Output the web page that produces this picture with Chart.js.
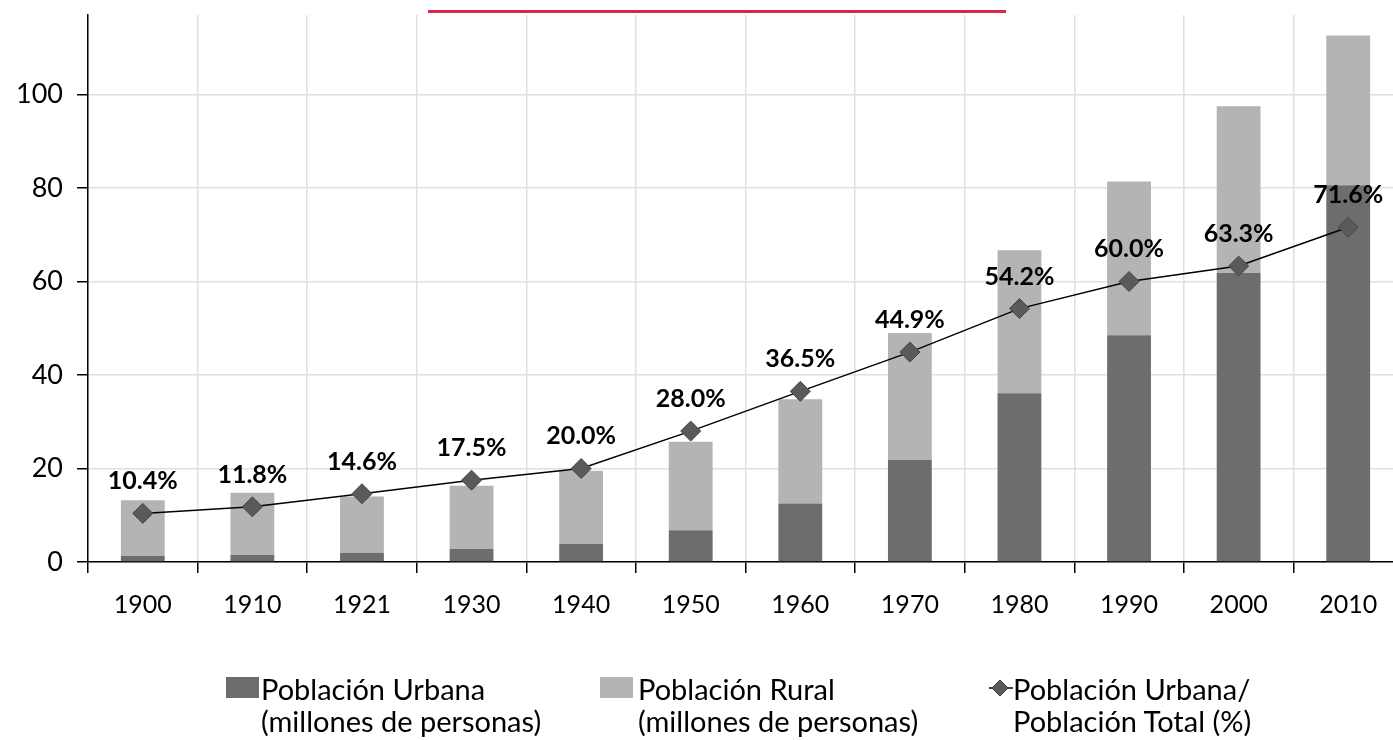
<!DOCTYPE html>
<html lang="es">
<head>
  <meta charset="UTF-8" />
  <title>Población urbana y rural</title>
  <script src="https://cdn.jsdelivr.net/npm/chart.js"></script>
  <style>
    html, body {
      margin: 0;
      padding: 0;
      background: #fff;
      overflow: hidden;
      width: 1393px;
      height: 740px;
    }
    .wrap {
      position: absolute;
      left: 0;
      top: 0;
      width: 1414px;
      height: 740px;
    }
    .legend-item {
      position: absolute;
      top: 673px;
      font-family: 'Lato', sans-serif;
      font-size: 29px;
      line-height: 32px;
      color: #000;
    }
    .legend-item .txt {
      position: absolute;
      white-space: nowrap;
    }
    .swatch {
      position: absolute;
      top: 4px;
      width: 33px;
      height: 21px;
    }
  </style>
</head>
<body>
  <div class="wrap">
    <canvas id="chart"></canvas>
  </div>

  <!-- Legend -->
  <div class="legend-item" style="left:226px">
    <div class="swatch" style="left:0;background:#6d6d6d"></div>
    <div class="txt" style="left:35px">Población Urbana<br>(millones de personas)</div>
  </div>
  <div class="legend-item" style="left:600px">
    <div class="swatch" style="left:0;background:#b4b4b4"></div>
    <div class="txt" style="left:38px">Población Rural<br>(millones de personas)</div>
  </div>
  <div class="legend-item" style="left:989px">
    <svg width="24" height="32" style="position:absolute;left:0;top:0">
      <line x1="0" y1="15" x2="24" y2="15" stroke="#000" stroke-width="1.5"/>
      <polygon points="11,7 19,15 11,23 3,15" fill="#5a5a5a" stroke="#333" stroke-width="1"/>
    </svg>
    <div class="txt" style="left:24px">Población Urbana/<br>Población Total (%)</div>
  </div>

  <script>
    const categories = ['1900', '1910', '1921', '1930', '1940', '1950', '1960', '1970', '1980', '1990', '2000', '2010'];
    const urbana = [1.3, 1.5, 2.0, 2.8, 3.9, 6.8, 12.5, 21.8, 36.1, 48.5, 61.8, 80.6];
    const rural = [11.9, 13.3, 12.0, 13.5, 15.6, 18.9, 22.3, 27.2, 30.6, 32.9, 35.7, 32.0];
    const porcentaje = [10.4, 11.8, 14.6, 17.5, 20.0, 28.0, 36.5, 44.9, 54.2, 60.0, 63.3, 71.6];
    const yTickStep = 20;
    const yMax = 117;

    // labels above the line points
    const pointLabels = {
      id: 'pointLabels',
      afterDatasetsDraw(chart) {
        const ctx = chart.ctx;
        const meta = chart.getDatasetMeta(0);
        ctx.save();
        ctx.font = 'bold 25px Lato';
        ctx.fillStyle = '#000';
        ctx.textAlign = 'center';
        ctx.textBaseline = 'alphabetic';
        meta.data.forEach((pt, i) => {
          ctx.fillText(porcentaje[i].toFixed(1) + '%', pt.x, pt.y - 24);
        });
        ctx.restore();
      }
    };

    // thin red rule at the top
    const topRule = {
      id: 'topRule',
      beforeDraw(chart) {
        const ctx = chart.ctx;
        ctx.save();
        ctx.strokeStyle = '#dc2450';
        ctx.lineWidth = 3;
        ctx.beginPath();
        ctx.moveTo(428, 11.5);
        ctx.lineTo(1006, 11.5);
        ctx.stroke();
        ctx.restore();
      }
    };

    new Chart(document.getElementById('chart'), {
      type: 'bar',
      data: {
        labels: categories,
        datasets: [
          {
            type: 'line',
            label: 'Población Urbana/ Población Total (%)',
            data: porcentaje,
            borderColor: '#000',
            borderWidth: 1.5,
            pointStyle: 'rectRot',
            pointRadius: 10,
            pointBackgroundColor: '#5a5a5a',
            pointBorderColor: '#444',
            pointBorderWidth: 1,
            tension: 0,
            order: 0
          },
          {
            label: 'Población Urbana (millones de personas)',
            data: urbana,
            backgroundColor: '#6d6d6d',
            stack: 'pob',
            order: 1
          },
          {
            label: 'Población Rural (millones de personas)',
            data: rural,
            backgroundColor: '#b4b4b4',
            stack: 'pob',
            order: 1
          }
        ]
      },
      options: {
        responsive: true,
        maintainAspectRatio: false,
        animation: false,
        layout: { padding: { top: 15, right: 0, left: 0, bottom: 0 } },
        datasets: {
          bar: { categoryPercentage: 1, barPercentage: 0.4 }
        },
        plugins: {
          legend: { display: false },
          tooltip: { enabled: false }
        },
        scales: {
          x: {
            stacked: true,
            grid: {
              offset: true,
              color: '#e0e0e0',
              lineWidth: 1.5,
              tickColor: '#000',
              tickLength: 11
            },
            border: { color: '#000', width: 1.5 },
            ticks: {
              color: '#000',
              padding: 17,
              font: { family: 'Lato', size: 25 }
            },
            afterFit(scale) {
              scale.height = 178;
              scale.paddingLeft = 0;
              scale.paddingRight = 0;
            }
          },
          y: {
            stacked: true,
            min: 0,
            max: yMax,
            grid: {
              color: '#e0e0e0',
              lineWidth: 1.5,
              tickColor: '#000',
              tickLength: 11
            },
            border: { color: '#000', width: 1.5 },
            ticks: {
              stepSize: yTickStep,
              color: '#000',
              padding: 14,
              font: { family: 'Lato', size: 27 }
            },
            afterBuildTicks(scale) {
              scale.ticks = scale.ticks.filter(t => t.value % yTickStep === 0);
            },
            afterFit(scale) {
              scale.width = 88;
              scale.paddingTop = 0;
              scale.paddingBottom = 0;
            }
          }
        }
      },
      plugins: [pointLabels, topRule]
    });
  </script>
</body>
</html>
